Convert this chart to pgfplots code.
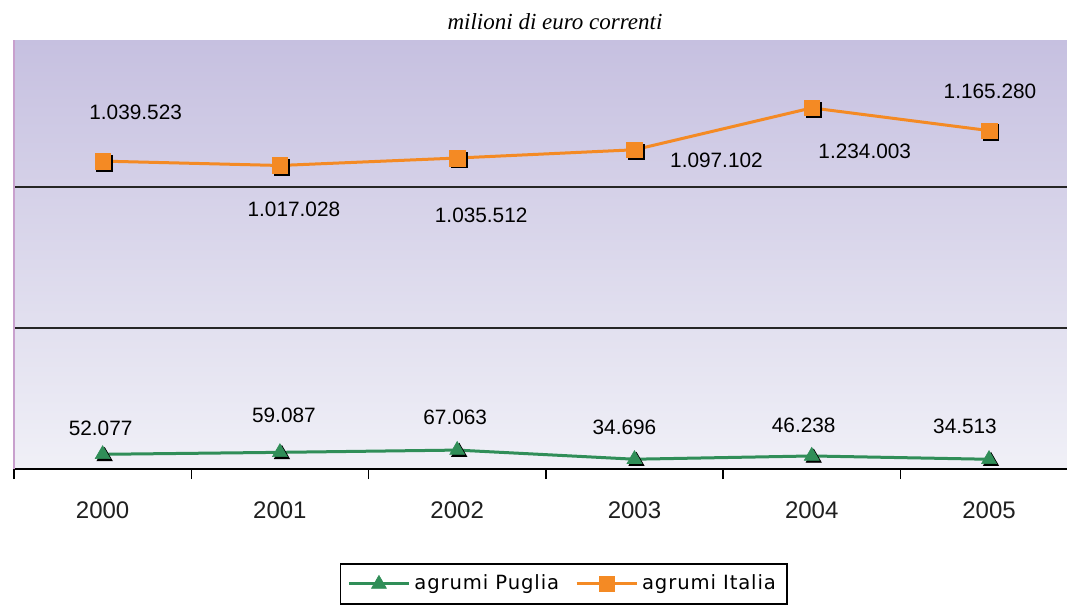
\documentclass[border=0pt]{standalone}
\usepackage{pgfplots}
\usepackage{pgfplotstable}
\pgfplotsset{compat=1.18}
\usepackage{fontspec}
\setmainfont{Liberation Sans}
\newfontfamily\legfont[LetterSpace=4.5]{DejaVu Sans}
\newfontfamily\titlefont{Liberation Serif}
\definecolor{ora}{RGB}{244,138,36}
\definecolor{grn}{RGB}{48,142,88}
\definecolor{bgtop}{RGB}{198,192,224}
\definecolor{bgmid}{RGB}{216,213,236}
\definecolor{bgbot}{RGB}{240,240,247}
\definecolor{pinkline}{RGB}{200,160,205}

\pgfplotstableread{
x puglia italia pl il pdx pdy idx idy
0 52077 1039523 52.077 1.039.523 -1 13 16.5 24.5
1 59087 1017028 59.087 1.017.028 2 18.5 7 -22
2 67063 1035512 67.063 1.035.512 -1 16.5 12 -28.5
3 34696 1097102 34.696 1.097.102 -5 16 41 -5.5
4 46238 1234003 46.238 1.234.003 -4 15.5 26.5 -21.5
5 34513 1165280 34.513 1.165.280 -12 16.5 0.5 19.5
}\data

\begin{document}
\begin{tikzpicture}
\path[use as bounding box] (0,0) rectangle (533.5pt,303.5pt);
\node[font=\titlefont\itshape\fontsize{11.5}{13}\selectfont] at (277.5pt,292.5pt) {milioni di euro correnti};
\begin{axis}[
  at={(7pt,69pt)}, anchor=south west,
  scale only axis, width=526.5pt, height=214.5pt,
  xmin=-0.5, xmax=5.44, ymin=0, ymax=1521000,
  scaled y ticks=false,
  axis background/.style={shade, top color=bgtop, middle color=bgmid, bottom color=bgbot},
  axis x line=bottom, axis y line=left,
  x axis line style={-, black, line width=0.8pt},
  y axis line style={-, pinkline, line width=0.6pt},
  ytick={500000,1000000}, yticklabels={}, ymajorgrids,
  grid style={black!85, line width=0.6pt},
  y tick style={draw=none},
  xtick={0,1,2,3,4,5}, xticklabels={2000,2001,2002,2003,2004,2005},
  major x tick style={draw=none},
  minor xtick={-0.5,0.5,1.5,2.5,3.5,4.5},
  minor x tick style={black, line width=0.7pt},
  minor tick length=5pt, tick align=outside,
  xticklabel style={anchor=center, yshift=-16.5pt, font=\fontsize{12}{14}\selectfont, text=black!88},
  legend style={at={(rel axis cs:0.522,-0.268)}, anchor=center, legend columns=2, draw=black, line width=0.9pt, fill=white, font=\legfont\fontsize{9.8}{11}\selectfont, inner sep=3.5pt, /tikz/every even column/.append style={column sep=6pt}},
  legend image code/.code={\draw[mark repeat=2,mark phase=2] plot coordinates {(0pt,0pt) (15pt,0pt) (30pt,0pt)};},
  clip=false,
]
\addplot[only marks, mark=triangle*, mark size=4.3pt, black, mark options={xshift=1pt,yshift=-1pt}, forget plot] table[x=x,y=puglia]{\data};
\addplot[grn, line width=1.5pt, mark=triangle*, mark size=4.3pt, mark options={solid, line width=0.3pt, fill=grn},
  point meta=explicit symbolic, nodes near coords={\pgfplotspointmeta},
  visualization depends on={\thisrow{pdx}\as\dx},
  visualization depends on={\thisrow{pdy}\as\dy},
  every node near coord/.append style={anchor=center, xshift=\dx pt, yshift=\dy pt, text=black, font=\fontsize{10.4}{12}\selectfont}]
  table[x=x,y=puglia,meta=pl]{\data};
\addlegendentry{agrumi Puglia}
\addplot[only marks, mark=square*, mark size=3.9pt, black, mark options={xshift=1pt,yshift=-1pt}, forget plot] table[x=x,y expr=\thisrow{puglia}+\thisrow{italia}]{\data};
\addplot[ora, line width=1.5pt, mark=square*, mark size=3.9pt, mark options={solid, line width=0.3pt, fill=ora},
  point meta=explicit symbolic, nodes near coords={\pgfplotspointmeta},
  visualization depends on={\thisrow{idx}\as\dx},
  visualization depends on={\thisrow{idy}\as\dy},
  every node near coord/.append style={anchor=center, xshift=\dx pt, yshift=\dy pt, text=black, font=\fontsize{10.4}{12}\selectfont}]
  table[x=x,y expr=\thisrow{puglia}+\thisrow{italia},meta=il]{\data};
\addlegendentry{agrumi Italia}
\end{axis}
\end{tikzpicture}
\end{document}
